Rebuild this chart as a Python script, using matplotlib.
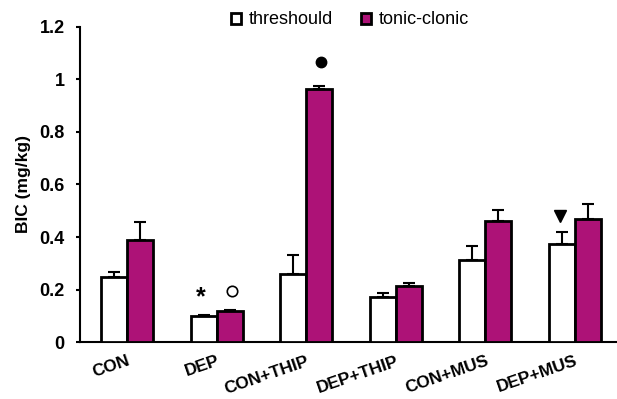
import matplotlib
matplotlib.use("Agg")
import matplotlib.pyplot as plt
import numpy as np
from matplotlib.patches import Patch

groups = ["CON", "DEP", "CON+THIP", "DEP+THIP", "CON+MUS", "DEP+MUS"]
threshold = [0.25, 0.10, 0.26, 0.172, 0.312, 0.372]
threshold_err = [0.018, 0.005, 0.073, 0.014, 0.053, 0.046]
tonic = [0.388, 0.119, 0.962, 0.213, 0.461, 0.470]
tonic_err = [0.07, 0.005, 0.011, 0.012, 0.043, 0.055]
yticks = [0, 0.2, 0.4, 0.6, 0.8, 1.0, 1.2]
ytick_labels = ["0", "0.2", "0.4", "0.6", "0.8", "1", "1.2"]

magenta = "#AD1277"
FONT = "Liberation Sans"
W, H = 617, 399
fig = plt.figure(figsize=(W/100, H/100), dpi=100)
ax = fig.add_axes([80/W, 1-342.3/H, 1-80/W, (342.3-26.7)/H])

x = np.arange(len(groups))
bw = 0.29
ax.bar(x - bw/2, threshold, bw, color="white", edgecolor="black", linewidth=2,
       yerr=[np.zeros(6), threshold_err], error_kw=dict(ecolor="black", elinewidth=1.5, capsize=4.5, capthick=1.5), zorder=3)
ax.bar(x + bw/2, tonic, bw, color=magenta, edgecolor="black", linewidth=2,
       yerr=[np.zeros(6), tonic_err], error_kw=dict(ecolor="black", elinewidth=1.5, capsize=4.5, capthick=1.5), zorder=3)

ax.set_xlim(-0.525, 5.47)
ax.set_ylim(0, 1.2)
ax.set_yticks(yticks)
ax.set_yticklabels(ytick_labels, fontsize=13, fontweight="bold", family=FONT)
ax.tick_params(axis="y", direction="out", length=3, width=1.5, pad=8)
ax.set_xticks(x)
ax.set_xticklabels(groups, rotation=19, ha="right", rotation_mode="anchor",
                   fontsize=12.5, fontweight="bold", family=FONT)
ax.tick_params(axis="x", length=0, pad=8)
ax.spines["top"].set_visible(False)
ax.spines["right"].set_visible(False)
ax.spines["left"].set_linewidth(1.5)
ax.spines["bottom"].set_linewidth(1.5)

ax.set_ylabel("BIC (mg/kg)", fontsize=12.5, fontweight="bold", family=FONT, labelpad=6)

# significance markers
ax.text(1 - bw/2 - 0.03, 0.172, "*", ha="center", va="center", fontsize=18, fontweight="bold", family=FONT)
ax.plot([1 + bw/2 + 0.03], [0.195], marker="o", ms=7.5, mfc="white", mec="black", mew=1.2, ls="none")
ax.plot([2 + bw/2 + 0.02], [1.066], marker="o", ms=7.5, color="black", ls="none")
ax.plot([5 - bw/2 - 0.02], [0.48], marker="v", ms=9, color="black", ls="none")

handles = [Patch(facecolor="white", edgecolor="black", linewidth=2),
           Patch(facecolor=magenta, edgecolor="black", linewidth=2)]
fig.legend(handles, ["threshould", "tonic-clonic"], loc="center", bbox_to_anchor=(350/W, 1-20/H),
           ncol=2, frameon=False, handlelength=0.55, handleheight=0.55, handletextpad=0.4,
           columnspacing=1.6, prop=dict(family=FONT, size=13))

fig.savefig("out.png", dpi=100)
